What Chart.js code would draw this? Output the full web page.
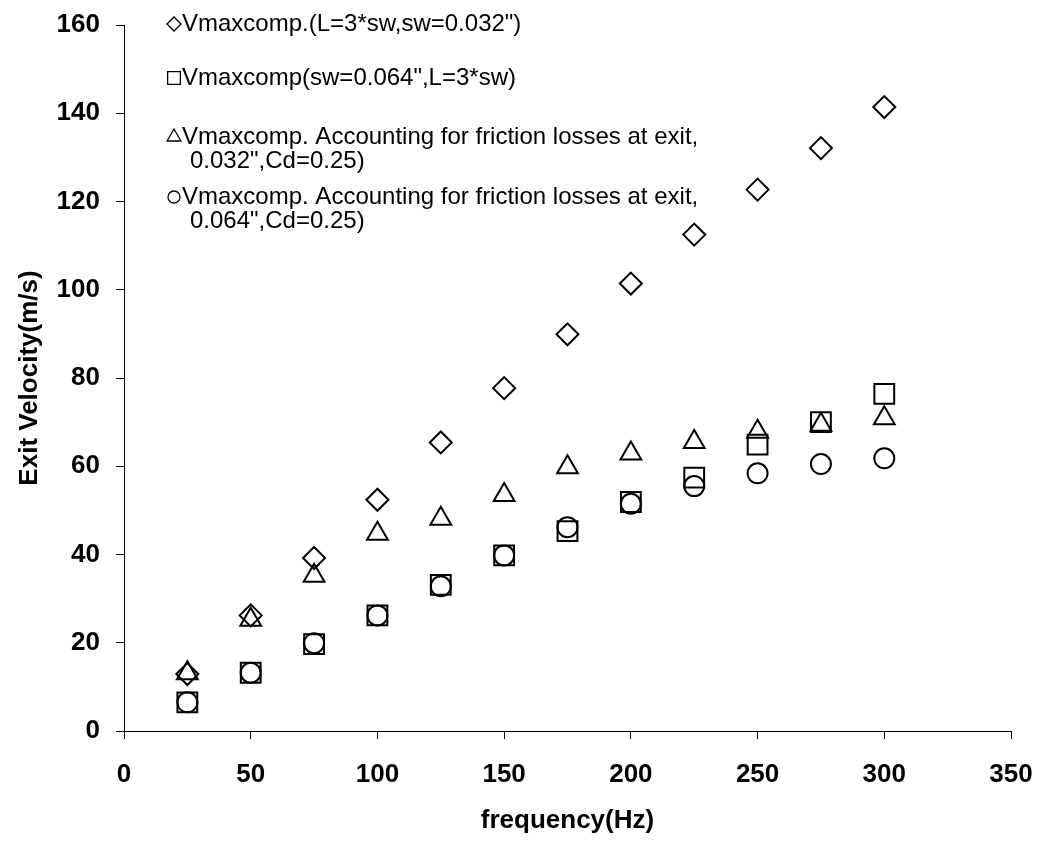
<!DOCTYPE html>
<html>
<head>
<meta charset="utf-8">
<script src="https://cdn.jsdelivr.net/npm/chart.js@4/dist/chart.umd.min.js"></script>
<style>
  html, body { margin: 0; padding: 0; background: #fff; }
  #wrap { width: 1042px; height: 842px; }
</style>
</head>
<body>
<div id="wrap"><canvas id="chart" width="1042" height="842"></canvas></div>
<script>
const frequency = [25, 50, 75, 100, 125, 150, 175, 200, 225, 250, 275, 300];
const vmax032 = [12.9, 26.2, 39.2, 52.4, 65.4, 77.7, 89.9, 101.4, 112.5, 122.7, 132.1, 141.4];
const vmax064 = [6.5, 13.2, 19.7, 26.2, 33.1, 39.8, 45.3, 51.9, 57.4, 64.9, 70.0, 76.4];
const friction032 = [13.1, 25.2, 35.2, 44.7, 48.1, 53.5, 59.8, 62.9, 65.5, 67.8, 69.4, 70.9];
const friction064 = [6.5, 13.2, 19.9, 26.2, 32.8, 39.8, 46.2, 51.5, 55.5, 58.4, 60.5, 61.8];

const seriesNames = [
    ['Vmaxcomp.(L=3*sw,sw=0.032")'],
    ['Vmaxcomp(sw=0.064",L=3*sw)'],
    ['Vmaxcomp. Accounting for friction losses at exit,', '0.032",Cd=0.25)'],
    ['Vmaxcomp. Accounting for friction losses at exit,', '0.064",Cd=0.25)']
];
const xTicks = [0, 50, 100, 150, 200, 250, 300, 350];
const yTicks = [0, 20, 40, 60, 80, 100, 120, 140, 160];

const FONT = "'Liberation Sans', Arial, Helvetica, sans-serif";

function toPoints(ys) {
    return frequency.map((f, i) => ({ x: f, y: ys[i] }));
}

function makeSet(name, ys, style, radius) {
    return {
        label: name.join(' '),
        data: toPoints(ys),
        pointStyle: style,
        pointRadius: radius,
        pointHoverRadius: radius,
        pointBorderWidth: 2,
        borderColor: '#000',
        backgroundColor: 'rgba(0,0,0,0)',
        showLine: false
    };
}

// legend drawn by hand so the two-line entries sit like the original
const legendRows = [
    { y: 24, radius: 7 },
    { y: 78, radius: 9 },
    { y: 137, radius: 8 },
    { y: 197, radius: 6 }
];

const sideLegend = {
    id: 'sideLegend',
    afterDraw(chart) {
        const ctx = chart.ctx;
        ctx.save();
        ctx.textBaseline = 'middle';
        ctx.textAlign = 'left';
        chart.data.datasets.forEach((ds, i) => {
            const row = legendRows[i];
            ctx.strokeStyle = '#000';
            ctx.fillStyle = 'rgba(0,0,0,0)';
            ctx.lineWidth = 1.3;
            Chart.helpers.drawPoint(ctx, {
                pointStyle: ds.pointStyle,
                radius: row.radius,
                rotation: 0,
                borderWidth: 1.3
            }, 174, row.y);
            ctx.font = '24px ' + FONT;
            ctx.fillStyle = '#000';
            seriesNames[i].forEach((txt, k) => {
                ctx.fillText(txt, k === 0 ? 182 : 190, row.y + k * 24);
            });
        });
        ctx.restore();
    }
};

new Chart(document.getElementById('chart'), {
    type: 'scatter',
    data: {
        datasets: [
            makeSet(seriesNames[0], vmax032, 'rectRot', 11),
            makeSet(seriesNames[1], vmax064, 'rect', 14),
            makeSet(seriesNames[2], friction032, 'triangle', 12),
            makeSet(seriesNames[3], friction064, 'circle', 10)
        ]
    },
    options: {
        responsive: false,
        animation: false,
        layout: { padding: { top: 25, right: 31, left: 0, bottom: 0 } },
        plugins: {
            legend: { display: false },
            tooltip: { enabled: false }
        },
        scales: {
            x: {
                type: 'linear',
                min: 0,
                max: 350,
                afterBuildTicks: (axis) => { axis.ticks = xTicks.map(v => ({ value: v })); },
                afterFit: (axis) => {
                    axis.height = 111;
                    axis.paddingLeft = 0;
                    axis.paddingRight = 0;
                },
                grid: { drawOnChartArea: false, drawTicks: true, tickLength: 8, color: '#000' },
                border: { display: true, color: '#000', width: 1 },
                ticks: { color: '#000', padding: 20, font: { family: FONT, size: 26, weight: 'bold' } },
                title: {
                    display: true,
                    text: 'frequency(Hz)',
                    color: '#000',
                    padding: { top: 4, bottom: 6 },
                    font: { family: FONT, size: 26, weight: 'bold' }
                }
            },
            y: {
                type: 'linear',
                min: 0,
                max: 160,
                afterBuildTicks: (axis) => { axis.ticks = yTicks.map(v => ({ value: v })); },
                afterFit: (axis) => {
                    axis.width = 124;
                    axis.paddingTop = 0;
                    axis.paddingBottom = 0;
                },
                grid: { drawOnChartArea: false, drawTicks: true, tickLength: 8, color: '#000' },
                border: { display: true, color: '#000', width: 1 },
                ticks: { color: '#000', padding: 16, font: { family: FONT, size: 26, weight: 'bold' } },
                title: {
                    display: true,
                    text: 'Exit Velocity(m/s)',
                    color: '#000',
                    padding: { top: 14, bottom: 0 },
                    font: { family: FONT, size: 26, weight: 'bold' }
                }
            }
        }
    },
    plugins: [sideLegend]
});
</script>
</body>
</html>
